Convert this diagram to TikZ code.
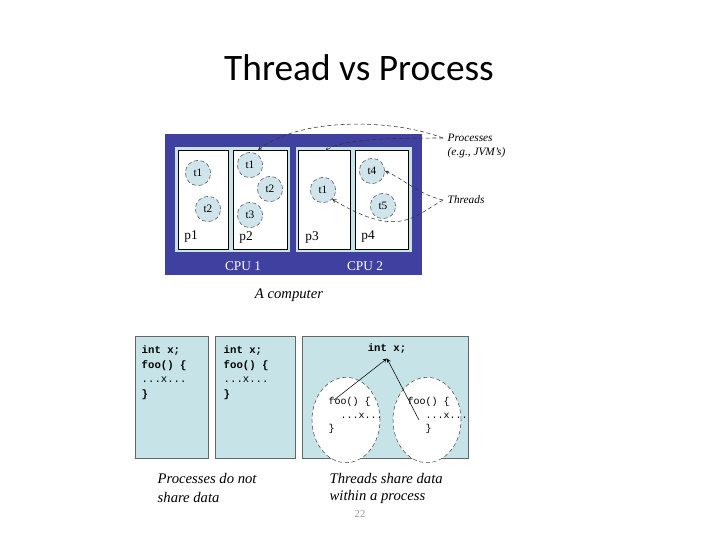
\documentclass[tikz,border=0pt]{standalone}
\usepackage{fontspec}
\usetikzlibrary{shapes.geometric}
\setmainfont{Liberation Serif}
\setmonofont{Liberation Mono}
\newfontfamily\titlefont{Carlito}
\begin{document}
\begin{tikzpicture}[x=0.75pt,y=-0.75pt,
  thr/.style={circle,draw=black!70,densely dashed,fill=cyan!15!white!85!gray,minimum size=19pt,inner sep=0pt,font=\fontsize{8.5}{10}\selectfont},
  lbl/.style={font=\fontsize{8.5}{10}\selectfont\itshape,anchor=west},
  captxt/.style={font=\fontsize{11}{13}\selectfont\itshape,anchor=west},
  code/.style={font=\ttfamily\bfseries\fontsize{8}{11}\selectfont,anchor=north west,align=left},
  lead/.style={draw=black!80,thin,densely dashed,-stealth},
  blob/.style={draw=black!70,densely dashed,fill=white,ellipse,minimum width=51pt,minimum height=64pt,inner sep=0pt}]
\useasboundingbox (0,0) rectangle (720,540);
\definecolor{dblue}{RGB}{64,64,160}
\definecolor{lblue}{RGB}{198,228,232}
\node[font=\titlefont\fontsize{28}{32}\selectfont] (title) at (359,68) {Thread vs Process};
% computer
\fill[dblue] (165,134) rectangle (422,275);
\fill[lblue] (175,147) rectangle (290,252);
\fill[lblue] (296,147) rectangle (412,252);
\draw[fill=white] (178,150) rectangle (228,249);
\draw[fill=white] (233,150) rectangle (287,249);
\draw[fill=white] (298,150) rectangle (350,249);
\draw[fill=white] (355,150) rectangle (408,249);
\coordinate (p2top) at (258,150);
\coordinate (p3top) at (325,151);
\node[thr] (a1) at (198,173) {t1};
\node[thr] (a2) at (208,209) {t2};
\node[thr] (b1) at (250,165) {t1};
\node[thr] (b2) at (270,189) {t2};
\node[thr] (b3) at (250,215) {t3};
\node[thr] (c1) at (323,190) {t1};
\node[thr] (d4) at (372,171) {t4};
\node[thr] (d5) at (383,206) {t5};
\node[font=\fontsize{10}{11}\selectfont] (l1) at (191,237) {p1};
\node[font=\fontsize{10}{11}\selectfont] (l2) at (246,237) {p2};
\node[font=\fontsize{10}{11}\selectfont] (l3) at (312,237) {p3};
\node[font=\fontsize{10}{11}\selectfont] (l4) at (368,237) {p4};
\node[white,font=\fontsize{10}{11}\selectfont] (cpu1) at (243,266) {CPU 1};
\node[white,font=\fontsize{10}{11}\selectfont] (cpu2) at (365,266) {CPU 2};
\node[captxt,anchor=center] (comp) at (289,295) {A computer};
\node[lbl] (proc) at (443,138) {Processes};
\node[lbl] (jvm) at (443,153) {(e.g., JVM's)};
\node[lbl] (thr) at (443,200) {Threads};
\draw[lead] (proc.west) .. controls (390,118) and (300,118) .. (p2top);
\draw[lead] (proc.west) .. controls (400,138) and (345,138) .. (p3top);
\draw[lead] (thr.west) .. controls (420,195) and (405,180) .. (d4.east);
\draw[lead] (thr.west) .. controls (415,215) and (400,240) .. (c1.south east);
% bottom
\draw[fill=lblue,draw=black!60] (135,336) rectangle (208,458);
\draw[fill=lblue,draw=black!60] (215,336) rectangle (295,458);
\draw[fill=lblue,draw=black!60] (302,336) rectangle (468,458);
\node[code] (c1t) at (137,341) {int x;\\foo() \{\\\mdseries...x...\\\}};
\node[code] (c2t) at (219,341) {int x;\\foo() \{\\\mdseries...x...\\\}};
\node[code,anchor=center] (shared) at (387,349) {int x;};
\node[blob] (e1) at (346,420) {};
\node[blob] (e2) at (427,420) {};
\node[code,font=\ttfamily\fontsize{7.5}{10}\selectfont] (f1) at (324,393) {foo() \{\\\ \ ...x...\\\}};
\node[code,font=\ttfamily\fontsize{7.5}{10}\selectfont] (f2) at (403,393) {foo() \{\\\ \ \ ...x...\\\ \ \ \}};
\draw[-stealth,thin] (e1.center) ++(-12,-20) -- (shared.south);
\draw[-stealth,thin] (e2.center) ++(-8,0) -- (shared.south);
\node[captxt] (cp1) at (153,478) {Processes do not};
\node[captxt] (cp2) at (153,497) {share data};
\node[captxt] (ct1) at (325,478) {Threads share data};
\node[captxt] (ct2) at (325,497) {within a process};
\node[black!40,font=\fontsize{8}{9}\selectfont] (pg) at (360,514) {22};
\end{tikzpicture}
\end{document}
